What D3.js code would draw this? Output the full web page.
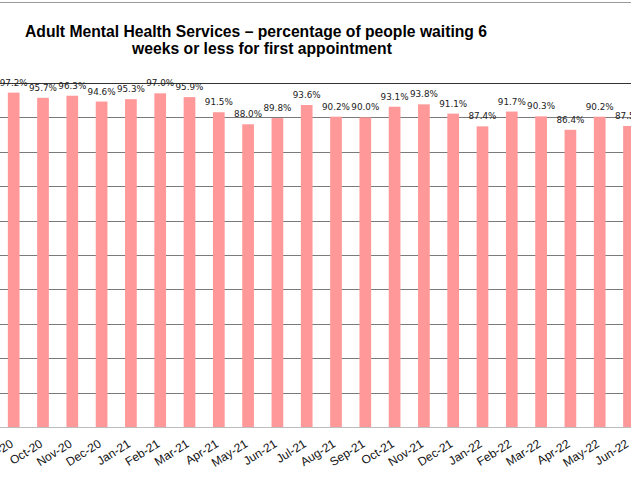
<!DOCTYPE html>
<html>
<head>
<meta charset="utf-8">
<script src="https://cdn.jsdelivr.net/npm/d3@7"></script>
<style>
  html, body { margin: 0; padding: 0; background: #fff; }
  svg { display: block; }
</style>
</head>
<body>
<svg id="chart" width="631" height="501"></svg>
<script>
const titleLines = ["Adult Mental Health Services \u2013 percentage of people waiting 6", "weeks or less for first appointment"];
const months = ["Sep-20","Oct-20","Nov-20","Dec-20","Jan-21","Feb-21","Mar-21","Apr-21","May-21","Jun-21","Jul-21","Aug-21","Sep-21","Oct-21","Nov-21","Dec-21","Jan-22","Feb-22","Mar-22","Apr-22","May-22","Jun-22"];
const values = [97.2,95.7,96.3,94.6,95.3,97.0,95.9,91.5,88.0,89.8,93.6,90.2,90.0,93.1,93.8,91.1,87.4,91.7,90.3,86.4,90.2,87.5];
const yTicks = [0,10,20,30,40,50,60,70,80,90,100];

const svg = d3.select("#chart");
const W = 631, H = 501;

// top border line
svg.append("line").attr("x1", 0).attr("x2", W).attr("y1", 2.5).attr("y2", 2.5)
  .attr("stroke", "#9a9a9a").attr("stroke-width", 1);

// title
const title = svg.append("text")
  .attr("font-family", "'Liberation Sans', Arial, sans-serif")
  .attr("font-weight", "bold").attr("font-size", 15.7).attr("fill", "#000");
title.append("tspan").attr("x", 256).attr("y", 37).attr("text-anchor", "middle").text(titleLines[0]);
title.append("tspan").attr("x", 262).attr("y", 53.5).attr("text-anchor", "middle").text(titleLines[1]);

const x = d3.scaleBand().domain(months).range([-0.95, -0.95 + months.length * 29.3])
  .paddingInner(0.6).paddingOuter(0.3);
const y = d3.scaleLinear().domain([0, 100]).range([427, 83]);

// gridlines
svg.append("g").selectAll("line").data(yTicks.filter(t => t > 0)).join("line")
  .attr("x1", 0).attr("x2", W)
  .attr("y1", d => Math.round(y(d)) + 0.5).attr("y2", d => Math.round(y(d)) + 0.5)
  .attr("stroke", d => d === 100 ? "#333" : "#7a7a7a").attr("stroke-width", 1);

// bars
svg.append("g").selectAll("rect").data(values).join("rect")
  .attr("x", (d, i) => x(months[i]))
  .attr("width", x.bandwidth())
  .attr("y", d => y(d))
  .attr("height", d => y(0) - y(d))
  .attr("fill", "#ff9999");

// baseline
svg.append("line").attr("x1", 0).attr("x2", W)
  .attr("y1", y(0) + 0.5).attr("y2", y(0) + 0.5)
  .attr("stroke", "#bdbdbd").attr("stroke-width", 1.2);

// value labels
svg.append("g").selectAll("text").data(values).join("text")
  .attr("x", (d, i) => x(months[i]) + x.bandwidth() / 2)
  .attr("y", d => y(d) - 7)
  .attr("text-anchor", "middle")
  .attr("font-family", "'DejaVu Sans', Verdana, sans-serif")
  .attr("font-size", 8.8)
  .attr("fill", "#222")
  .text(d => d.toFixed(1) + "%");

// x axis labels
svg.append("g").selectAll("text").data(months).join("text")
  .attr("transform", d => `translate(${x(d) + x.bandwidth() / 2 + 0.5},446) rotate(-32)`)
  .attr("text-anchor", "end")
  .attr("font-family", "'Liberation Sans', Arial, sans-serif")
  .attr("font-size", 12)
  .attr("fill", "#111")
  .text(d => d);
</script>
</body>
</html>
